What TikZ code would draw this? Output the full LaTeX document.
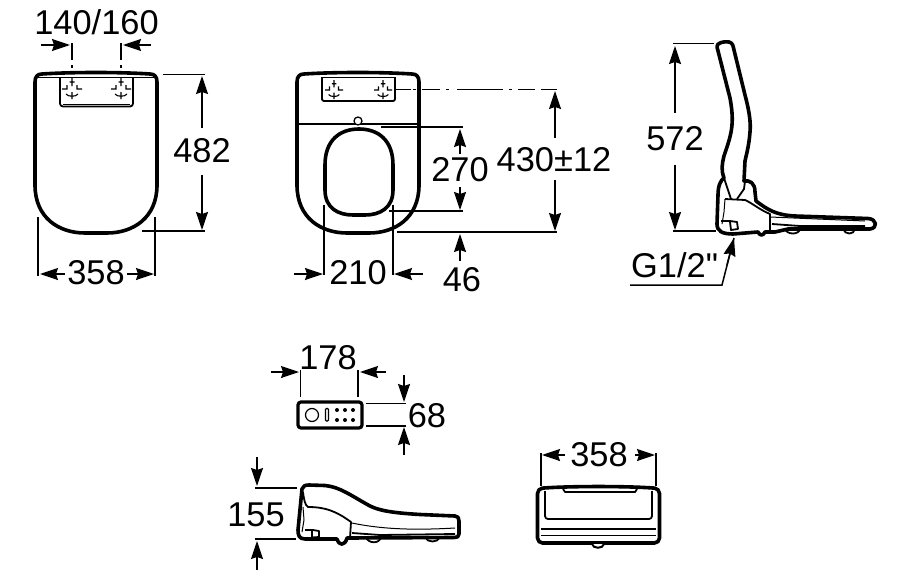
\documentclass[tikz,border=0pt]{standalone}
\usepackage{fontspec}
\setmainfont{Liberation Sans}
\newfontfamily\rawf{Liberation Sans}
\usetikzlibrary{arrows.meta}
\tikzset{
  dimarrow/.style={line width=1.5pt,-{Stealth[length=18pt,width=12pt,inset=2pt]}},
  extline/.style={line width=1.5pt},
  shell/.style={line width=3.6pt,line join=round},
  thinpart/.style={line width=1pt,line join=round},
  midpart/.style={line width=1.8pt,line join=round},
  dimtext/.style={font=\fontsize{34.4}{34}\selectfont,inner sep=0pt,anchor=center},
  mount/.pic={
    \draw[line width=1.1pt] (0,-11)--(0,-3) (-2.5,-7)--(2.5,-7)
      (-10,0)--(-5,0)--(-5,-4) (10,0)--(5,0)--(5,-4)
      (-6,5) .. controls (-4,8) and (4,8) .. (6,5) (0,3)--(0,10);
  },
  seatshell/.pic={
    \draw[shell] (0,82) -- (0,185) .. controls (0,218) and (24,233) .. (50,233)
      -- (72,233) .. controls (98,233) and (122,218) .. (122,185)
      -- (122,82) .. controls (122,76) and (119,74) .. (115,74)
      .. controls (85,72) and (37,72) .. (7,74) .. controls (3,74) and (0,76) .. (0,82) -- cycle;
  }
}
\begin{document}
\begin{tikzpicture}[x=1pt,y=-1pt]
\useasboundingbox (0,0) rectangle (900,570);

% ---------- view 1: closed lid
\pic at (35,0) {seatshell};
\draw[thinpart] (37,77.5) -- (155,77.5);
\draw[midpart,rounded corners=3pt] (60,77) -- (60,106.5) -- (133,106.5) -- (133,77);
\draw[thinpart] (63,104) -- (130,104);
\pic at (72,89) {mount};
\pic at (121,89) {mount};
\node[dimtext] (t140) at (96.5,22) {140/160};
\coordinate (a1) at (41,45); \coordinate (a2) at (70,45);
\coordinate (a3) at (151,45); \coordinate (a4) at (123,45);
\draw[dimarrow] (a1) -- (a2);
\draw[dimarrow] (a3) -- (a4);
\draw[extline] (72,43) -- (72,60) (72,65) -- (72,68);
\draw[extline] (121,43) -- (121,60) (121,65) -- (121,68);
\node[dimtext] (t482) at (202,151) {482};
\draw[extline] (163,74.5) -- (205,74.5);
\draw[extline] (142,231) -- (205,231);
\draw[dimarrow] (202,128) -- (202,76);
\draw[dimarrow] (202,175) -- (202,230);
\node[dimtext] (t358a) at (96,273) {358};
\draw[extline] (38,217) -- (38,276);
\draw[extline] (155,217) -- (155,276);
\draw[dimarrow] (65,274) -- (40,274);
\draw[dimarrow] (127,274) -- (154,274);

% ---------- view 2: open lid
\pic at (297,0) {seatshell};
\draw[midpart] (298,124) -- (418,124);
\draw[fill=white,line width=1.3pt] (358,121) circle (4);
\draw[shell] (325,165) .. controls (325,140) and (340,129) .. (359,129)
  .. controls (378,129) and (393,140) .. (393,165) -- (393,190)
  .. controls (393,208) and (380,215) .. (365,215) -- (353,215)
  .. controls (338,215) and (325,208) .. (325,190) -- cycle;
\draw[midpart,rounded corners=2pt] (322,77) -- (322,101) -- (395,101) -- (395,77);
\draw[thinpart] (323,77) -- (394,77);
\pic[scale=.9] at (334,90) {mount};
\pic[scale=.9] at (383,90) {mount};
\draw[extline] (395,89.5) -- (411,89.5) (413,89.5) -- (416,89.5) (422,89.5) -- (440,89.5)
  (446,89.5) -- (449,89.5) (457,89.5) -- (503,89.5) (509,89.5) -- (512,89.5)
  (518,89.5) -- (535,89.5) (541,89.5) -- (557,89.5);
\node[dimtext] (t270) at (460,170) {270};
\draw[extline] (381,127) -- (463,127);
\draw[extline] (389,211) -- (463,211);
\draw[dimarrow] (460,154) -- (460,129);
\draw[dimarrow] (460,187) -- (460,210);
\node[dimtext] (t430) at (554,160) {430±12};
\draw[extline] (397,232) -- (557,232);
\draw[dimarrow] (555,138) -- (555,91);
\draw[dimarrow] (555,180) -- (555,231);
\node[dimtext] (t46) at (462,280) {46};
\draw[dimarrow] (460,261) -- (460,234);
\node[dimtext] (t210) at (358,273) {210};
\draw[extline] (324,205) -- (324,275);
\draw[extline] (393,205) -- (393,275);
\draw[dimarrow] (294,274) -- (323,274);
\draw[dimarrow] (423,274) -- (394,274);

% ---------- view 3: side view
\draw[shell] (717,47) .. controls (716,43) and (724,41) .. (729,42)
  .. controls (733,43) and (733,46) .. (734,50)
  -- (745,95) .. controls (749,110) and (751,122) .. (750,132)
  .. controls (749,145) and (747,152) .. (745,161) -- (744,181)
  .. controls (750,180) and (755,183) .. (755,192) -- (756,201)
  .. controls (768,210) and (776,215) .. (795,216)
  -- (868,218.5) .. controls (877,219) and (878,228) .. (870,229)
  -- (788,229) -- (775,232) -- (765,232)
  .. controls (763,236) and (760,236) .. (758,232)
  -- (733,234) .. controls (722,234) and (717,231) .. (717,224)
  -- (718,195) .. controls (718,185) and (721,180) .. (724,178)
  .. controls (721,170) and (722,164) .. (724,156)
  .. controls (731,135) and (735,125) .. (730,98) -- cycle;
\draw[midpart] (724,178) -- (731,199);
\draw[midpart] (745,181) -- (744,189) -- (737,199);
\draw[midpart] (725,199) -- (745,200) .. controls (752,203) and (760,210) .. (770,214)
  -- (770,230);
\draw[thinpart] (725,199) -- (724,212) -- (722,224);
\draw[midpart] (721,221) -- (730,221) -- (737,222) -- (738,229) -- (731,230) -- (730,222);
\draw[thinpart] (770,217) -- (865,221);
\draw[midpart] (772,224) -- (800,226) -- (865,226);
\draw[midpart] (785,229) .. controls (787,235) and (799,235) .. (800,229);
\draw[midpart] (843,229) .. controls (845,235) and (854,235) .. (855,229);
\node[dimtext,anchor=west] (tg) at (631,265) {\rawf G1/2"};
\node[dimtext] (t572) at (675,139) {572};
\draw[extline] (673,43.5) -- (714,43.5);
\draw[extline] (673,231) -- (716,231);
\draw[dimarrow] (675,113) -- (675,46);
\draw[dimarrow] (675,165) -- (675,230);
\coordinate (g1) at (630,285); \coordinate (g2) at (722,285);
\coordinate (g3) at (734,238);
\draw[extline] (g1) -- (g2) -- (g3);
\draw[dimarrow] (727,265) -- (g3);

% ---------- remote control
\draw[line width=3.2pt,rounded corners=3pt] (298,402) rectangle (362,428);
\draw[line width=1.2pt] (312,415) circle (6.5);
\draw[line width=1.2pt,rounded corners=1pt] (325.5,408.5) rectangle (328.5,421);
\foreach \px in {337,345,353} \foreach \py in {410,420}
  \fill (\px,\py) circle (2);
\node[dimtext] (t178) at (328,358) {178};
\draw[extline] (300.5,370) -- (300.5,397);
\draw[extline] (358,370) -- (358,397);
\draw[dimarrow] (271,372) -- (299,372);
\draw[dimarrow] (386,372) -- (360,372);
\node[dimtext] (t68) at (427,416) {68};
\draw[extline] (366,403.5) -- (406,403.5);
\draw[extline] (366,426) -- (406,426);
\draw[dimarrow] (404,375) -- (404,402);
\draw[dimarrow] (404,455) -- (404,427);

% ---------- body side view
\draw[shell] (302,489) .. controls (303,486) and (305,485) .. (309,485)
  -- (325,485.5) .. controls (340,487) and (350,495) .. (370,506)
  .. controls (380,511) and (395,513) .. (420,514.5) -- (455,516)
  .. controls (458,516) and (459,518) .. (459,521) -- (459,534)
  .. controls (459,537) and (457,537.5) .. (454,537.5)
  -- (347,538)
  .. controls (345,546) and (339,546) .. (337,539)
  -- (305,539) .. controls (299,539) and (298,535) .. (298,530) -- cycle;
\draw[midpart] (303,492) .. controls (304,500) and (305,505) .. (308,507)
  .. controls (325,507) and (336,511) .. (351,522) -- (350,538);
\draw[thinpart] (303,507) -- (304,520) -- (302,532);
\draw[thinpart] (352,523) .. controls (385,530) and (420,530) .. (455,528);
\draw[midpart] (352,533) -- (380,535) -- (455,534);
\draw[midpart] (366,537) .. controls (368,544) and (380,544) .. (381,537);
\draw[midpart] (425,537) .. controls (427,543) and (438,543) .. (440,537);
\draw[midpart] (305,530) -- (313,530) -- (319,531) -- (319,537) -- (312,537.5) -- (312,531);
\node[dimtext] (t155) at (256,515) {155};
\draw[extline] (255,488) -- (297,488);
\draw[extline] (255,539) -- (296,539);
\draw[dimarrow] (257,457) -- (257,486);
\draw[dimarrow] (257,570) -- (257,541);

% ---------- body front view
\draw[shell,rounded corners=5pt] (537.5,543) -- (537.5,488.5)
  .. controls (570,486) and (627,486) .. (659.5,488.5) -- (659.5,543) -- cycle;
\draw[midpart,rounded corners=3pt] (545,491) -- (545,519) -- (652,519) -- (652,491);
\draw[midpart] (563,489) -- (565,492) -- (635,492) -- (637,489);
\draw[midpart] (541,529) -- (656,529);
\draw[midpart] (541,535.5) -- (656,535.5);
\draw[line width=2pt,fill=white] (592,544) .. controls (593,549) and (603,549) .. (604,544);
\node[dimtext] (t358b) at (599,455) {358};
\draw[extline] (541,453) -- (541,486);
\draw[extline] (656,453) -- (656,486);
\draw[dimarrow] (565,455) -- (542,455);
\draw[dimarrow] (635,455) -- (655,455);
\end{tikzpicture}
\end{document}
